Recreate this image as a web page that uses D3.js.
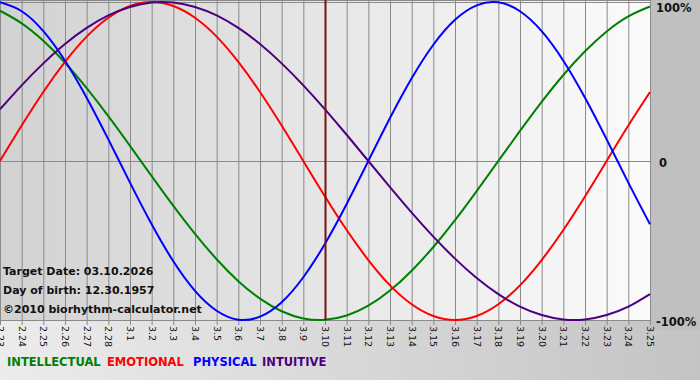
<!DOCTYPE html>
<html>
<head>
<meta charset="utf-8">
<script src="https://cdn.jsdelivr.net/npm/d3@7"></script>
<style>
  body { margin: 0; background: #fff; }
  svg { display: block; }
  text { font-family: "DejaVu Sans", Verdana, sans-serif; }
</style>
</head>
<body>
<div id="chart"></div>
<script>
// day labels along the bottom
var days = ["2.23", "2.24", "2.25", "2.26", "2.27", "2.28", "3.1", "3.2", "3.3", "3.4",
    "3.5", "3.6", "3.7", "3.8", "3.9", "3.10", "3.11", "3.12", "3.13", "3.14",
    "3.15", "3.16", "3.17", "3.18", "3.19", "3.20", "3.21", "3.22", "3.23", "3.24", "3.25"];

// values, one per day
var physical = [0.998, 0.942, 0.817, 0.631, 0.398, 0.136, -0.136, -0.398, -0.631, -0.817,
    -0.942, -0.998, -0.979, -0.888, -0.731, -0.520, -0.270, 0, 0.270, 0.520,
    0.731, 0.888, 0.979, 0.998, 0.942, 0.817, 0.631, 0.398, 0.136, -0.136, -0.398];
var emotional = [0, 0.223, 0.434, 0.623, 0.782, 0.901, 0.975, 1, 0.975, 0.901,
    0.782, 0.623, 0.434, 0.223, 0, -0.223, -0.434, -0.623, -0.782, -0.901,
    -0.975, -1, -0.975, -0.901, -0.782, -0.623, -0.434, -0.223, 0, 0.223, 0.434];
var intellectual = [0.945, 0.866, 0.756, 0.618, 0.458, 0.282, 0.095, -0.095, -0.282, -0.458,
    -0.618, -0.756, -0.866, -0.945, -0.990, -0.999, -0.972, -0.910, -0.815, -0.690,
    -0.541, -0.372, -0.189, 0, 0.189, 0.372, 0.541, 0.690, 0.815, 0.910, 0.972];
var intuitive = [0.325, 0.476, 0.614, 0.736, 0.837, 0.916, 0.969, 0.997, 0.997, 0.969,
    0.916, 0.837, 0.736, 0.614, 0.476, 0.325, 0.165, 0, -0.165, -0.325,
    -0.476, -0.614, -0.736, -0.837, -0.916, -0.969, -0.997, -0.997, -0.969, -0.916, -0.837];

var yTicks = [1, 0, -1];
var yTickLabels = ["100%", "0", "-100%"];
var targetDay = "3.10";
var infoLines = ["Target Date: 03.10.2026", "Day of birth: 12.30.1957", "\u00a92010 biorhythm-calculator.net"];

var series = [
    { name: "INTELLECTUAL", values: intellectual, color: "#008000" },
    { name: "EMOTIONAL", values: emotional, color: "#ff0000" },
    { name: "PHYSICAL", values: physical, color: "#0000ff" },
    { name: "INTUITIVE", values: intuitive, color: "#4b0082" }
];

var W = 700, H = 380;
var plot = { left: 0, top: 2, width: 650, height: 318 };

var svg = d3.select("#chart").append("svg")
    .attr("width", W)
    .attr("height", H);

var defs = svg.append("defs");
var g1 = defs.append("linearGradient").attr("id", "plotBg");
g1.append("stop").attr("offset", "0%").attr("stop-color", "#d2d2d2");
g1.append("stop").attr("offset", "100%").attr("stop-color", "#fbfbfb");
var g2 = defs.append("linearGradient").attr("id", "bottomBg");
g2.append("stop").attr("offset", "0%").attr("stop-color", "#ececec");
g2.append("stop").attr("offset", "100%").attr("stop-color", "#c4c4c4");

// backgrounds
svg.append("rect").attr("width", W).attr("height", H).attr("fill", "url(#bottomBg)");
svg.append("rect").attr("x", 650).attr("y", 0).attr("width", 50).attr("height", 330).attr("fill", "#c0c0c0");
svg.append("rect")
    .attr("x", plot.left).attr("y", 0)
    .attr("width", plot.width).attr("height", plot.top + plot.height)
    .attr("fill", "url(#plotBg)");

var x = d3.scalePoint()
    .domain(days)
    .range([plot.left, plot.left + plot.width]);

var y = d3.scaleLinear()
    .domain([-1, 1])
    .range([plot.top + plot.height, plot.top]);

// vertical day grid, with a little tick below the axis
svg.append("g").selectAll("line")
    .data(days)
    .enter().append("line")
    .attr("x1", function (d) { return x(d) + 0.5; })
    .attr("x2", function (d) { return x(d) + 0.5; })
    .attr("y1", 0)
    .attr("y2", plot.top + plot.height + 5)
    .attr("stroke", "#8a8a8a")
    .attr("stroke-width", 1);

// horizontal lines at 100%, 0, -100%
svg.append("g").selectAll("line")
    .data(yTicks)
    .enter().append("line")
    .attr("x1", plot.left)
    .attr("x2", plot.left + plot.width + 1)
    .attr("y1", function (d) { return Math.round(y(d)) + 0.5; })
    .attr("y2", function (d) { return Math.round(y(d)) + 0.5; })
    .attr("stroke", "#8a8a8a");
svg.append("line")
    .attr("x1", 0).attr("x2", plot.width + 1)
    .attr("y1", 0.5).attr("y2", 0.5)
    .attr("stroke", "#8a8a8a");

// right axis labels
svg.append("g").selectAll("text")
    .data(yTicks)
    .enter().append("text")
    .attr("x", function (d, i) { return i == 1 ? 659 : 656; })
    .attr("y", function (d) { return Math.max(y(d) + 6, 12); })
    .attr("font-size", "11.5px")
    .attr("font-weight", "bold")
    .attr("fill", "#111")
    .text(function (d, i) { return yTickLabels[i]; });

// bottom day labels, rotated
svg.append("g").selectAll("text")
    .data(days)
    .enter().append("text")
    .attr("transform", function (d) {
        return "translate(" + (x(d) - 3) + "," + (plot.top + plot.height + 6) + ") rotate(90)";
    })
    .attr("font-size", "9.5px")
    .attr("fill", "#111")
    .text(function (d) { return d; });

// info text
svg.append("g").selectAll("text")
    .data(infoLines)
    .enter().append("text")
    .attr("x", 3)
    .attr("y", function (d, i) { return 275 + i * 19; })
    .attr("font-size", "11px")
    .attr("font-weight", "bold")
    .attr("fill", "#111")
    .text(function (d) { return d; });

// curves
var line = d3.line()
    .x(function (d, i) { return x(days[i]); })
    .y(function (d) { return y(d); })
    .curve(d3.curveNatural);

svg.append("g").selectAll("path")
    .data(series)
    .enter().append("path")
    .attr("d", function (d) { return line(d.values); })
    .attr("fill", "none")
    .attr("stroke", function (d) { return d.color; })
    .attr("stroke-width", 2);

// target date marker
svg.append("line")
    .attr("x1", x(targetDay) + 0.5)
    .attr("x2", x(targetDay) + 0.5)
    .attr("y1", 0)
    .attr("y2", plot.top + plot.height)
    .attr("stroke", "#7a1010")
    .attr("stroke-width", 2);

// legend
var legendX = [7, 107, 193, 262];
svg.append("g").selectAll("text")
    .data(series)
    .enter().append("text")
    .attr("x", function (d, i) { return legendX[i]; })
    .attr("y", 366)
    .attr("font-size", "11.5px")
    .attr("font-weight", "bold")
    .attr("fill", function (d) { return d.color; })
    .text(function (d) { return d.name; });
</script>
</body>
</html>
